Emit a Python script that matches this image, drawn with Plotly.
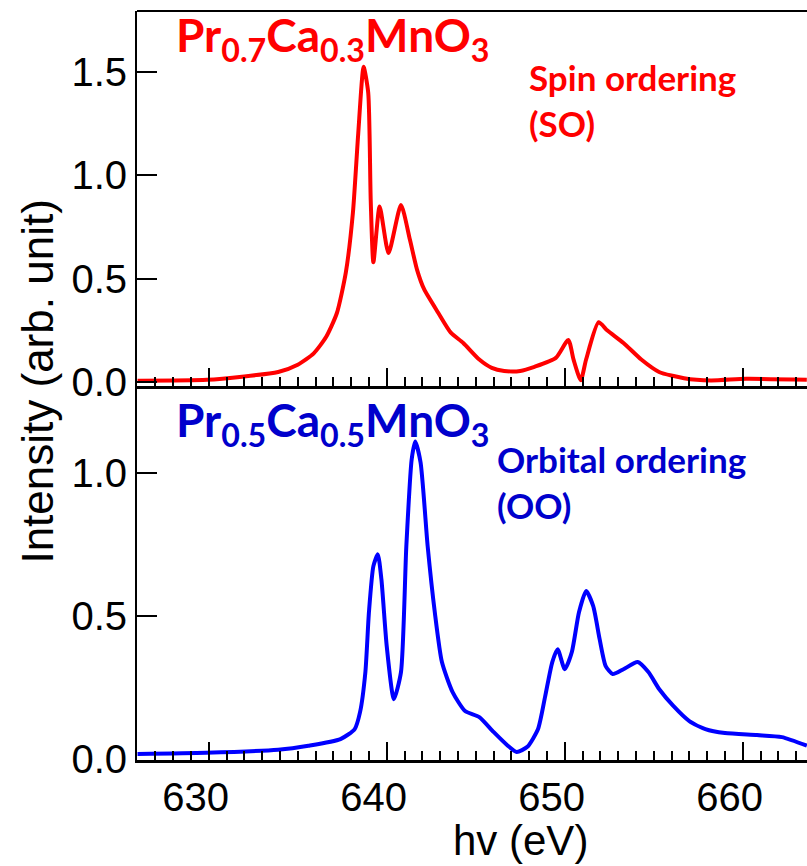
import plotly.graph_objects as go
from plotly.subplots import make_subplots

# Pr0.7Ca0.3MnO3 — spin ordering spectrum
so_energy = [626.0, 629.9, 633.9, 635.0, 635.9, 636.6, 637.2, 637.7, 638.1, 638.4,
             638.7, 638.96, 639.1, 639.25, 639.6, 640.1, 640.8, 641.3, 641.7, 642.1,
             642.9, 643.6, 644.3, 645.2, 645.9, 646.6, 647.5, 648.3, 649.5, 650.2,
             650.5, 650.9, 651.2, 651.9, 652.4, 653.3, 654.3, 655.3, 656.7, 658.2,
             660.2, 663.6]
so_intensity = [0.008, 0.012, 0.050, 0.085, 0.140, 0.220, 0.335, 0.530, 0.820, 1.205,
                1.525, 1.400, 0.880, 0.580, 0.850, 0.625, 0.857, 0.690, 0.545, 0.450,
                0.335, 0.240, 0.190, 0.110, 0.070, 0.055, 0.055, 0.075, 0.118, 0.205,
                0.108, 0.010, 0.110, 0.290, 0.250, 0.190, 0.110, 0.050, 0.020, 0.009,
                0.017, 0.012]

# Pr0.5Ca0.5MnO3 — orbital ordering spectrum
oo_energy = [626.0, 629.85, 633.9, 635.6, 637.4, 638.2, 638.5, 638.8, 639.0, 639.25,
             639.5, 639.7, 640.0, 640.4, 640.8, 641.1, 641.4, 641.6, 641.9, 642.3,
             642.7, 643.1, 643.7, 644.4, 645.2, 646.0, 646.8, 647.3, 647.9, 648.5,
             648.9, 649.3, 649.6, 650.0, 650.4, 650.8, 651.2, 651.6, 651.96, 652.3,
             652.7, 653.3, 654.1, 654.7, 655.3, 656.1, 657.0, 657.9, 659.0, 660.8,
             662.2, 663.6]
oo_intensity = [0.019, 0.023, 0.034, 0.048, 0.071, 0.106, 0.165, 0.305, 0.514, 0.675,
                0.716, 0.629, 0.395, 0.210, 0.305, 0.744, 1.047, 1.110, 1.037, 0.744,
                0.514, 0.340, 0.235, 0.169, 0.148, 0.096, 0.048, 0.026, 0.044, 0.106,
                0.220, 0.340, 0.385, 0.315, 0.375, 0.514, 0.588, 0.535, 0.420, 0.326,
                0.298, 0.315, 0.340, 0.305, 0.246, 0.187, 0.134, 0.106, 0.092, 0.085,
                0.078, 0.048]

x_range = [625.97, 663.61]
so_yrange = [-0.0155, 1.795]
oo_yrange = [-0.002, 1.303]
x_ticks = [630, 640, 650, 660]

RED = "#ff0000"
BLUE = "#0000ff"
BLUE_TEXT = "#0000cc"
AXIS_FONT = "Liberation Sans, Arial, sans-serif"
LABEL_FONT = "Lato, Open Sans, sans-serif"

fig = make_subplots(rows=2, cols=1, shared_xaxes=False, vertical_spacing=0.0)

fig.add_trace(go.Scatter(x=so_energy, y=so_intensity, mode="lines",
                         line=dict(color=RED, width=4, shape="spline", smoothing=0.6),
                         showlegend=False), row=1, col=1)
fig.add_trace(go.Scatter(x=oo_energy, y=oo_intensity, mode="lines",
                         line=dict(color=BLUE, width=4, shape="spline", smoothing=0.6),
                         showlegend=False), row=2, col=1)

xaxis_common = dict(
    range=x_range, tickmode="array", tickvals=x_ticks,
    ticks="inside", ticklen=18, tickwidth=2, tickcolor="black",
    minor=dict(dtick=1, tick0=630, ticks="inside", ticklen=9, tickwidth=2, tickcolor="black"),
    showline=True, linecolor="black", linewidth=3,
    showgrid=False, zeroline=False,
)
yaxis_common = dict(
    ticks="inside", ticklen=20, tickwidth=2, tickcolor="black",
    showline=True, linecolor="black", linewidth=2,
    showgrid=False, zeroline=False, dtick=0.5, tickformat=".1f",
    tickfont=dict(family=AXIS_FONT, size=40, color="black"),
)

fig.update_xaxes(**xaxis_common, showticklabels=False, domain=[0, 1], row=1, col=1)
fig.update_xaxes(**xaxis_common, showticklabels=True,
                 tickfont=dict(family=AXIS_FONT, size=40, color="black"),
                 ticklabelshift=-13, row=2, col=1)
fig.update_yaxes(**yaxis_common, range=so_yrange, domain=[0.5, 1.0], row=1, col=1)
fig.update_yaxes(**yaxis_common, range=oo_yrange, domain=[0.0, 0.499], row=2, col=1)

annotations = [
    dict(text="Pr<sub>0.7</sub>Ca<sub>0.3</sub>MnO<sub>3</sub>", x=0.055, y=1.008,
         xanchor="left", yanchor="top", font=dict(family=LABEL_FONT, size=46, color=RED)),
    dict(text="Spin ordering<br>(SO)", x=0.582, y=0.943, align="left",
         xanchor="left", yanchor="top", font=dict(family=LABEL_FONT, size=35, color=RED)),
    dict(text="Pr<sub>0.5</sub>Ca<sub>0.5</sub>MnO<sub>3</sub>", x=0.055, y=0.494,
         xanchor="left", yanchor="top", font=dict(family=LABEL_FONT, size=46, color=BLUE_TEXT)),
    dict(text="Orbital ordering<br>(OO)", x=0.534, y=0.432, align="left",
         xanchor="left", yanchor="top", font=dict(family=LABEL_FONT, size=35, color=BLUE_TEXT)),
    dict(text="hv (eV)", x=0.573, y=-0.107, xanchor="center", yanchor="middle",
         font=dict(family=AXIS_FONT, size=42, color="black")),
    dict(text="Intensity (arb. unit)", x=-0.148, y=0.505, textangle=-90,
         xanchor="center", yanchor="middle",
         font=dict(family=AXIS_FONT, size=44, color="black")),
]
for a in annotations:
    a.update(xref="paper", yref="paper", showarrow=False)
    if a["text"].startswith("Pr") or "ordering" in a["text"]:
        a["text"] = "<b>" + a["text"] + "</b>"
fig.update_layout(annotations=annotations)

# frame line along the top of the upper panel
fig.add_shape(type="line", xref="paper", yref="paper", x0=0, x1=1, y0=1, y1=1,
              line=dict(color="black", width=2))

fig.update_layout(
    width=807, height=866,
    margin=dict(l=137, r=0, t=11, b=106),
    paper_bgcolor="white", plot_bgcolor="white",
)

fig.write_html("out.html")
